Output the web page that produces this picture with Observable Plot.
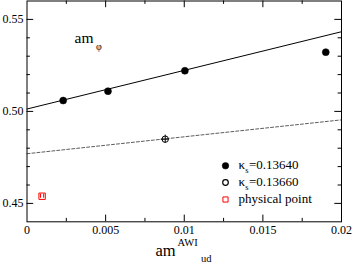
<!DOCTYPE html>
<html>
<head>
<meta charset="utf-8">
<script src="https://cdn.jsdelivr.net/npm/d3@7"></script>
<script src="https://cdn.jsdelivr.net/npm/@observablehq/plot@0.6"></script>
<style>
  html, body { margin: 0; padding: 0; background: white; }
</style>
</head>
<body>
<div id="chart"></div>
<script>
// ---- data ----
const kappa1X = [0.0023, 0.00515, 0.01004, 0.0190];
const kappa1Y = [0.5059, 0.5110, 0.5221, 0.5322];
const kappa2X = [0.00879];
const kappa2Y = [0.4849];
const kappa2ErrX = [0.00025];
const kappa2ErrY = [0.0022];
const physX = [0.00096];
const physY = [0.4539];
const physErrX = [0.0001];
const fitX = [0, 0.02];
const fit1Y = [0.5013, 0.5433];
const fit2Y = [0.4770, 0.4954];
const xTicks = [0, 0.005, 0.01, 0.015, 0.02];
const xTickLabels = ["0", "0.005", "0.01", "0.015", "0.02"];
const xMinor = [0.0025, 0.0075, 0.0125, 0.0175];
const xMajorInner = [0.005, 0.01, 0.015];
const yTicks = [0.45, 0.50, 0.55];
const yTickLabels = ["0.45", "0.50", "0.55"];
const yMinor = [0.46, 0.47, 0.48, 0.49, 0.51, 0.52, 0.53, 0.54];
const legendKappa = ["0.13640", "0.13660"];
const legendPhys = "physical point";

// ---- layout ----
const W = 354, H = 264;
const mL = 26.5, mR = 13, mT = 0.5, mB = 42.7;
const xDom = [0, 0.02], yDom = [0.44, 0.56];
const iw = W - mL - mR, ih = H - mT - mB;
const invX = px => xDom[0] + (px - mL) / iw * (xDom[1] - xDom[0]);
const invY = py => yDom[1] - (py - mT) / ih * (yDom[1] - yDom[0]);
const majorLen = 6.7, minorLen = 3.4;
const FF = '"Liberation Serif"';

const series1 = kappa1X.map((x, i) => ({x, y: kappa1Y[i]}));
const series2 = kappa2X.map((x, i) => ({x, y: kappa2Y[i], ex: kappa2ErrX[i], ey: kappa2ErrY[i]}));
const phys = physX.map((x, i) => ({x, y: physY[i], ex: physErrX[i]}));
const fit1 = fitX.map((x, i) => ({x, y: fit1Y[i]}));
const fit2 = fitX.map((x, i) => ({x, y: fit2Y[i]}));
const physCaps = phys.flatMap(d => [d.x - d.ex, d.x + d.ex].map(x => ({x, y: d.y})));

const legX = invX(225), legTX = invX(238);
const rows = [165.3, 182, 199];

const chart = Plot.plot({
  width: W, height: H,
  marginLeft: mL, marginRight: mR, marginTop: mT, marginBottom: mB,
  x: {domain: xDom},
  y: {domain: yDom},
  style: {background: "white", color: "black"},
  marks: [
    Plot.line(fit1, {x: "x", y: "y", stroke: "black", strokeWidth: 1}),
    Plot.line(fit2, {x: "x", y: "y", stroke: "#333", strokeWidth: 0.8, strokeDasharray: "3,2"}),
    Plot.ruleX(series2, {x: "x", y1: d => d.y - d.ey, y2: d => d.y + d.ey, stroke: "black", strokeWidth: 1}),
    Plot.ruleY(series2, {y: "y", x1: d => d.x - d.ex, x2: d => d.x + d.ex, stroke: "black", strokeWidth: 1}),
    Plot.dot(series1, {x: "x", y: "y", r: 3.5, fill: "black", stroke: "black", strokeWidth: 0.5}),
    Plot.dot(series2, {x: "x", y: "y", r: 3.2, fill: "none", stroke: "black", strokeWidth: 1}),
    Plot.dot(phys, {x: "x", y: "y", r: 3.6, symbol: "square", fill: "none", stroke: "#ff0000", strokeWidth: 1}),
    Plot.ruleX(physCaps, {x: "x", y1: d => d.y - 0.0011, y2: d => d.y + 0.0011, stroke: "#ff0000", strokeWidth: 1}),
    Plot.frame({stroke: "black", strokeWidth: 1}),
    Plot.tickY(yTicks, {y: d => d, insetRight: iw - majorLen, stroke: "black"}),
    Plot.tickY(yTicks, {y: d => d, insetLeft: iw - majorLen, stroke: "black"}),
    Plot.tickY(yMinor, {y: d => d, insetRight: iw - minorLen, stroke: "black"}),
    Plot.tickY(yMinor, {y: d => d, insetLeft: iw - minorLen, stroke: "black"}),
    Plot.tickX(xMajorInner, {x: d => d, insetTop: ih - majorLen, stroke: "black"}),
    Plot.tickX(xMajorInner, {x: d => d, insetBottom: ih - majorLen, stroke: "black"}),
    Plot.tickX(xMinor, {x: d => d, insetTop: ih - minorLen, stroke: "black"}),
    Plot.tickX(xMinor, {x: d => d, insetBottom: ih - minorLen, stroke: "black"}),
    Plot.axisX(xTicks, {tickSize: 0, tickPadding: 4, fontSize: 12, tickFormat: d => xTickLabels[xTicks.indexOf(d)], label: null}),
    Plot.axisY(yTicks, {tickSize: 0, tickPadding: 3.5, fontSize: 12, tickFormat: d => yTickLabels[yTicks.indexOf(d)], label: null}),
    Plot.text(["am"], {x: invX(155), y: invY(255), text: d => d, textAnchor: "start", lineAnchor: "bottom", fontSize: 16.5}),
    Plot.text(["AWI"], {x: invX(177), y: invY(245), text: d => d, textAnchor: "start", lineAnchor: "bottom", fontSize: 10.5}),
    Plot.text(["ud"], {x: invX(200.5), y: invY(261), text: d => d, textAnchor: "start", lineAnchor: "bottom", fontSize: 10.5}),
    Plot.text(["am"], {x: invX(74), y: invY(42.5), text: d => d, textAnchor: "start", lineAnchor: "bottom", fontSize: 15.5}),
    Plot.text(["\u03c6"], {x: invX(95.5), y: invY(49), text: d => d, textAnchor: "start", lineAnchor: "bottom", fontSize: 10}),
    Plot.dot([0], {x: () => legX, y: () => invY(rows[0]), r: 3.3, fill: "black", stroke: "black", strokeWidth: 0.5}),
    Plot.dot([0], {x: () => legX, y: () => invY(rows[1]), r: 2.8, fill: "none", stroke: "black", strokeWidth: 1.2}),
    Plot.dot([0], {x: () => legX, y: () => invY(rows[2]), r: 2.9, symbol: "square", fill: "none", stroke: "#ff0000", strokeWidth: 1}),
    Plot.text(legendKappa, {x: () => legTX, y: (d, i) => invY(rows[i] + 3), text: () => "\u03ba", textAnchor: "start", lineAnchor: "bottom", fontSize: 13}),
    Plot.text(legendKappa, {x: () => invX(244.8), y: (d, i) => invY(rows[i] + 7.5), text: () => "s", textAnchor: "start", lineAnchor: "bottom", fontSize: 8.5}),
    Plot.text(legendKappa, {x: () => invX(248.5), y: (d, i) => invY(rows[i] + 3), text: d => "=" + d, textAnchor: "start", lineAnchor: "bottom", fontSize: 13}),
    Plot.text([legendPhys], {x: () => legTX, y: () => invY(rows[2] + 3), text: d => d, textAnchor: "start", lineAnchor: "bottom", fontSize: 13})
  ]
});
// force serif font on every text element
d3.select(chart).style("font-family", FF);
d3.select(chart).selectAll("g").attr("font-family", null);
d3.select(chart).selectAll("text").style("font-family", FF);
document.getElementById("chart").appendChild(chart);
</script>
</body>
</html>
